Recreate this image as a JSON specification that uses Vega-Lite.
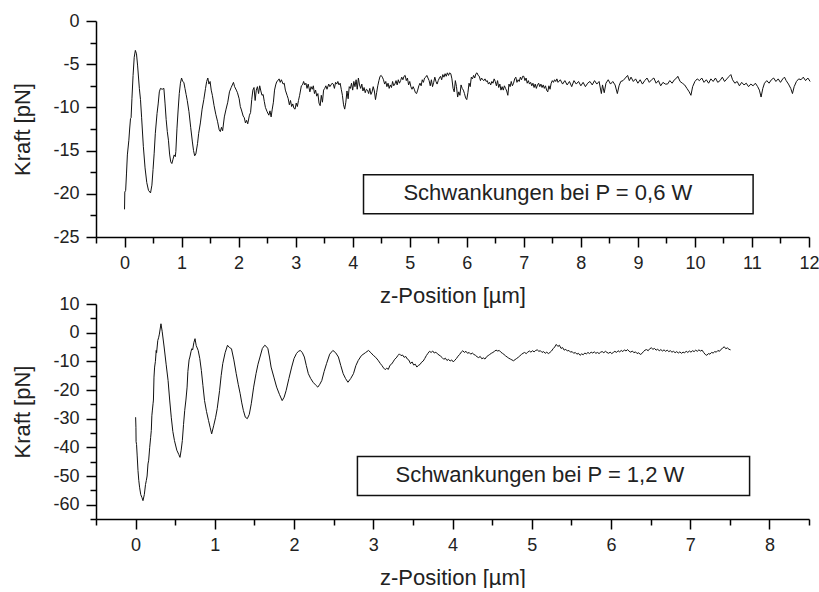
{
"$schema": "https://vega.github.io/schema/vega-lite/v6.json",
"padding": {"left": 11, "top": 12, "right": 0, "bottom": 0},
"bounds": "flush",
"spacing": 67,
"config": {
 "view": {"stroke": null},
 "font": "Liberation Sans",
 "axis": {"grid": false, "domainColor": "#000", "domainWidth": 1.5, "tickColor": "#000", "tickWidth": 1.5, "tickSize": 10, "labelColor": "#222", "titleColor": "#222", "labelFont": "Liberation Sans", "titleFont": "Liberation Sans", "labelFontSize": 18, "titleFontSize": 22, "titleFontWeight": "normal", "labelFlush": false, "labelOverlap": false, "labelPadding": 7, "titlePadding": 13}
},
"datasets": {
 "top": [
{"z":0.000,"f":-21.8},{"z":0.005,"f":-19.8},{"z":0.02,"f":-19.6},{"z":0.035,"f":-17.6},{"z":0.05,"f":-15.5},{"z":0.076,"f":-13.8},{"z":0.09,"f":-12.5},{"z":0.105,"f":-11.3},{"z":0.115,"f":-11.2},{"z":0.13,"f":-9.0},{"z":0.15,"f":-6.3},{"z":0.17,"f":-4.2},{"z":0.19,"f":-3.4},{"z":0.21,"f":-3.8},{"z":0.23,"f":-5.2},{"z":0.26,"f":-7.8},{"z":0.28,"f":-9.1},{"z":0.30,"f":-11.2},{"z":0.33,"f":-14.5},{"z":0.36,"f":-17.0},{"z":0.39,"f":-18.7},{"z":0.42,"f":-19.6},{"z":0.456,"f":-19.9},{"z":0.48,"f":-19.0},{"z":0.50,"f":-17.2},{"z":0.52,"f":-15.3},{"z":0.54,"f":-13.0},{"z":0.57,"f":-10.7},{"z":0.59,"f":-9.6},{"z":0.61,"f":-8.2},{"z":0.63,"f":-7.8},{"z":0.66,"f":-7.9},{"z":0.69,"f":-7.8},{"z":0.71,"f":-9.5},{"z":0.73,"f":-11.4},{"z":0.75,"f":-12.8},{"z":0.77,"f":-13.8},{"z":0.79,"f":-15.4},{"z":0.81,"f":-16.3},{"z":0.83,"f":-16.5},{"z":0.85,"f":-16.0},{"z":0.87,"f":-15.5},{"z":0.89,"f":-15.7},{"z":0.90,"f":-15.1},{"z":0.92,"f":-12.4},{"z":0.94,"f":-10.3},{"z":0.96,"f":-8.4},{"z":0.98,"f":-7.2},{"z":1.00,"f":-6.6},{"z":1.02,"f":-7.0},{"z":1.04,"f":-7.1},{"z":1.06,"f":-7.8},{"z":1.08,"f":-8.5},{"z":1.10,"f":-9.2},{"z":1.13,"f":-10.5},{"z":1.16,"f":-12.3},{"z":1.19,"f":-14.0},{"z":1.21,"f":-15.0},{"z":1.23,"f":-15.6},{"z":1.25,"f":-15.4},{"z":1.28,"f":-14.2},{"z":1.30,"f":-13.0},{"z":1.33,"f":-11.8},{"z":1.36,"f":-10.2},{"z":1.39,"f":-9.1},{"z":1.42,"f":-7.8},{"z":1.44,"f":-7.0},{"z":1.46,"f":-6.6},{"z":1.48,"f":-7.3},{"z":1.50,"f":-7.0},{"z":1.52,"f":-8.0},{"z":1.54,"f":-8.6},{"z":1.57,"f":-9.8},{"z":1.60,"f":-10.8},{"z":1.63,"f":-11.6},{"z":1.66,"f":-12.6},{"z":1.68,"f":-12.8},{"z":1.70,"f":-12.3},{"z":1.72,"f":-12.7},{"z":1.75,"f":-11.1},{"z":1.78,"f":-10.2},{"z":1.81,"f":-9.4},{"z":1.84,"f":-8.2},{"z":1.87,"f":-7.7},{"z":1.89,"f":-7.4},{"z":1.91,"f":-7.1},{"z":1.93,"f":-7.6},{"z":1.96,"f":-8.0},{"z":1.98,"f":-8.3},{"z":2.01,"f":-9.0},{"z":2.03,"f":-9.9},{"z":2.05,"f":-10.3},{"z":2.08,"f":-11.0},{"z":2.10,"f":-11.2},{"z":2.12,"f":-11.8},{"z":2.14,"f":-11.5},{"z":2.16,"f":-11.9},{"z":2.19,"f":-10.9},{"z":2.21,"f":-10.6},{"z":2.23,"f":-9.1},{"z":2.25,"f":-8.0},{"z":2.27,"f":-7.7},{"z":2.29,"f":-9.2},{"z":2.31,"f":-8.0},{"z":2.33,"f":-7.6},{"z":2.35,"f":-8.4},{"z":2.37,"f":-7.5},{"z":2.39,"f":-8.1},{"z":2.41,"f":-8.6},{"z":2.43,"f":-8.5},{"z":2.45,"f":-9.3},{"z":2.47,"f":-10.0},{"z":2.50,"f":-10.5},{"z":2.53,"f":-10.9},{"z":2.55,"f":-10.4},{"z":2.57,"f":-11.1},{"z":2.59,"f":-10.2},{"z":2.61,"f":-9.4},{"z":2.63,"f":-8.0},{"z":2.65,"f":-7.4},{"z":2.67,"f":-7.0},{"z":2.69,"f":-6.9},{"z":2.71,"f":-6.7},{"z":2.73,"f":-7.1},{"z":2.75,"f":-6.8},{"z":2.78,"f":-7.3},{"z":2.80,"f":-7.2},{"z":2.82,"f":-8.0},{"z":2.85,"f":-8.6},{"z":2.87,"f":-9.0},{"z":2.89,"f":-9.7},{"z":2.91,"f":-9.2},{"z":2.93,"f":-9.9},{"z":2.95,"f":-9.6},{"z":2.97,"f":-10.1},{"z":2.99,"f":-10.2},{"z":3.01,"f":-9.5},{"z":3.03,"f":-9.9},{"z":3.05,"f":-9.2},{"z":3.07,"f":-8.6},{"z":3.10,"f":-7.5},{"z":3.12,"f":-7.4},{"z":3.14,"f":-7.0},{"z":3.16,"f":-7.4},{"z":3.18,"f":-7.2},{"z":3.20,"f":-7.8},{"z":3.22,"f":-7.3},{"z":3.25,"f":-8.2},{"z":3.27,"f":-7.6},{"z":3.29,"f":-7.9},{"z":3.31,"f":-7.5},{"z":3.33,"f":-8.4},{"z":3.35,"f":-8.0},{"z":3.37,"f":-8.7},{"z":3.39,"f":-8.4},{"z":3.41,"f":-9.5},{"z":3.43,"f":-9.8},{"z":3.45,"f":-8.6},{"z":3.47,"f":-9.4},{"z":3.49,"f":-8.0},{"z":3.51,"f":-7.8},{"z":3.53,"f":-7.5},{"z":3.55,"f":-7.9},{"z":3.58,"f":-7.3},{"z":3.60,"f":-7.6},{"z":3.62,"f":-7.4},{"z":3.64,"f":-7.2},{"z":3.66,"f":-7.3},{"z":3.68,"f":-7.8},{"z":3.70,"f":-7.1},{"z":3.72,"f":-7.3},{"z":3.74,"f":-7.0},{"z":3.76,"f":-7.4},{"z":3.78,"f":-7.2},{"z":3.80,"f":-7.9},{"z":3.82,"f":-8.6},{"z":3.84,"f":-9.7},{"z":3.86,"f":-10.2},{"z":3.88,"f":-9.4},{"z":3.90,"f":-8.1},{"z":3.92,"f":-9.0},{"z":3.94,"f":-7.6},{"z":3.96,"f":-7.8},{"z":3.98,"f":-7.2},{"z":4.00,"f":-8.0},{"z":4.02,"f":-7.0},{"z":4.04,"f":-7.6},{"z":4.06,"f":-6.8},{"z":4.08,"f":-7.9},{"z":4.10,"f":-6.6},{"z":4.12,"f":-7.4},{"z":4.14,"f":-7.8},{"z":4.16,"f":-7.3},{"z":4.18,"f":-8.1},{"z":4.20,"f":-7.7},{"z":4.22,"f":-8.3},{"z":4.24,"f":-7.9},{"z":4.26,"f":-8.0},{"z":4.28,"f":-8.4},{"z":4.30,"f":-7.8},{"z":4.32,"f":-8.5},{"z":4.34,"f":-8.2},{"z":4.36,"f":-7.6},{"z":4.38,"f":-8.1},{"z":4.40,"f":-9.1},{"z":4.42,"f":-8.3},{"z":4.44,"f":-7.5},{"z":4.46,"f":-6.9},{"z":4.48,"f":-6.4},{"z":4.50,"f":-6.3},{"z":4.52,"f":-6.5},{"z":4.54,"f":-6.8},{"z":4.56,"f":-7.3},{"z":4.58,"f":-7.0},{"z":4.60,"f":-7.6},{"z":4.62,"f":-7.2},{"z":4.64,"f":-7.8},{"z":4.66,"f":-7.4},{"z":4.68,"f":-7.7},{"z":4.70,"f":-7.0},{"z":4.72,"f":-7.5},{"z":4.74,"f":-7.3},{"z":4.76,"f":-6.9},{"z":4.78,"f":-7.4},{"z":4.80,"f":-6.8},{"z":4.82,"f":-7.2},{"z":4.84,"f":-6.9},{"z":4.86,"f":-6.5},{"z":4.88,"f":-6.8},{"z":4.90,"f":-6.4},{"z":4.92,"f":-6.3},{"z":4.94,"f":-6.9},{"z":4.96,"f":-6.6},{"z":4.98,"f":-7.4},{"z":5.00,"f":-7.0},{"z":5.02,"f":-7.6},{"z":5.04,"f":-7.9},{"z":5.06,"f":-7.6},{"z":5.08,"f":-7.9},{"z":5.10,"f":-8.3},{"z":5.12,"f":-8.4},{"z":5.14,"f":-8.0},{"z":5.16,"f":-7.5},{"z":5.18,"f":-7.2},{"z":5.20,"f":-7.5},{"z":5.22,"f":-6.8},{"z":5.24,"f":-7.1},{"z":5.26,"f":-6.6},{"z":5.28,"f":-6.5},{"z":5.30,"f":-6.3},{"z":5.32,"f":-6.6},{"z":5.34,"f":-6.9},{"z":5.36,"f":-7.5},{"z":5.38,"f":-6.8},{"z":5.40,"f":-7.6},{"z":5.42,"f":-7.1},{"z":5.44,"f":-6.5},{"z":5.46,"f":-7.0},{"z":5.48,"f":-7.3},{"z":5.50,"f":-6.9},{"z":5.52,"f":-6.6},{"z":5.54,"f":-6.4},{"z":5.56,"f":-6.8},{"z":5.58,"f":-6.2},{"z":5.60,"f":-6.5},{"z":5.62,"f":-6.1},{"z":5.64,"f":-6.4},{"z":5.66,"f":-6.0},{"z":5.68,"f":-6.3},{"z":5.70,"f":-6.0},{"z":5.72,"f":-6.1},{"z":5.74,"f":-6.7},{"z":5.76,"f":-7.8},{"z":5.78,"f":-8.2},{"z":5.80,"f":-6.9},{"z":5.82,"f":-7.6},{"z":5.84,"f":-8.8},{"z":5.86,"f":-8.2},{"z":5.88,"f":-8.6},{"z":5.90,"f":-7.4},{"z":5.92,"f":-7.8},{"z":5.94,"f":-8.0},{"z":5.96,"f":-8.4},{"z":5.98,"f":-8.9},{"z":6.00,"f":-9.1},{"z":6.02,"f":-8.3},{"z":6.04,"f":-7.2},{"z":6.06,"f":-7.6},{"z":6.08,"f":-6.5},{"z":6.10,"f":-6.7},{"z":6.12,"f":-6.3},{"z":6.14,"f":-6.6},{"z":6.16,"f":-6.1},{"z":6.18,"f":-6.0},{"z":6.20,"f":-6.3},{"z":6.22,"f":-6.4},{"z":6.24,"f":-6.9},{"z":6.26,"f":-6.6},{"z":6.28,"f":-6.8},{"z":6.30,"f":-6.9},{"z":6.32,"f":-6.7},{"z":6.34,"f":-7.0},{"z":6.36,"f":-6.9},{"z":6.38,"f":-7.3},{"z":6.40,"f":-7.1},{"z":6.42,"f":-7.4},{"z":6.44,"f":-7.0},{"z":6.46,"f":-7.2},{"z":6.48,"f":-6.7},{"z":6.50,"f":-7.0},{"z":6.52,"f":-7.5},{"z":6.54,"f":-6.9},{"z":6.56,"f":-7.7},{"z":6.58,"f":-7.3},{"z":6.60,"f":-8.0},{"z":6.62,"f":-7.6},{"z":6.64,"f":-8.0},{"z":6.66,"f":-7.5},{"z":6.68,"f":-7.8},{"z":6.70,"f":-8.1},{"z":6.72,"f":-8.6},{"z":6.74,"f":-7.3},{"z":6.76,"f":-7.6},{"z":6.78,"f":-7.0},{"z":6.80,"f":-7.5},{"z":6.82,"f":-7.2},{"z":6.84,"f":-6.7},{"z":6.86,"f":-6.5},{"z":6.88,"f":-7.1},{"z":6.90,"f":-6.8},{"z":6.92,"f":-7.0},{"z":6.94,"f":-6.5},{"z":6.96,"f":-6.8},{"z":6.98,"f":-6.4},{"z":7.00,"f":-6.4},{"z":7.02,"f":-6.9},{"z":7.04,"f":-6.6},{"z":7.06,"f":-7.2},{"z":7.08,"f":-6.9},{"z":7.10,"f":-7.3},{"z":7.12,"f":-7.1},{"z":7.14,"f":-7.5},{"z":7.16,"f":-7.2},{"z":7.18,"f":-7.7},{"z":7.20,"f":-7.3},{"z":7.22,"f":-7.8},{"z":7.24,"f":-7.4},{"z":7.26,"f":-7.2},{"z":7.28,"f":-7.6},{"z":7.30,"f":-7.3},{"z":7.32,"f":-7.7},{"z":7.34,"f":-7.4},{"z":7.36,"f":-7.8},{"z":7.38,"f":-7.5},{"z":7.40,"f":-8.0},{"z":7.42,"f":-8.2},{"z":7.44,"f":-7.5},{"z":7.46,"f":-7.9},{"z":7.48,"f":-7.2},{"z":7.50,"f":-6.9},{"z":7.52,"f":-7.1},{"z":7.54,"f":-6.8},{"z":7.56,"f":-7.0},{"z":7.58,"f":-6.7},{"z":7.60,"f":-7.1},{"z":7.64,"f":-6.8},{"z":7.68,"f":-7.3},{"z":7.72,"f":-6.9},{"z":7.76,"f":-7.4},{"z":7.80,"f":-7.0},{"z":7.84,"f":-7.6},{"z":7.88,"f":-6.9},{"z":7.92,"f":-7.3},{"z":7.96,"f":-7.0},{"z":8.00,"f":-7.5},{"z":8.04,"f":-7.1},{"z":8.08,"f":-7.6},{"z":8.12,"f":-7.2},{"z":8.16,"f":-7.0},{"z":8.20,"f":-7.4},{"z":8.24,"f":-6.9},{"z":8.28,"f":-7.3},{"z":8.32,"f":-7.0},{"z":8.36,"f":-8.4},{"z":8.38,"f":-7.4},{"z":8.41,"f":-8.3},{"z":8.44,"f":-7.2},{"z":8.48,"f":-6.8},{"z":8.52,"f":-7.3},{"z":8.56,"f":-7.0},{"z":8.60,"f":-7.4},{"z":8.64,"f":-8.4},{"z":8.67,"f":-7.5},{"z":8.70,"f":-7.0},{"z":8.74,"f":-6.9},{"z":8.78,"f":-6.6},{"z":8.82,"f":-6.3},{"z":8.85,"f":-6.9},{"z":8.88,"f":-6.5},{"z":8.92,"f":-7.0},{"z":8.96,"f":-6.7},{"z":9.00,"f":-7.2},{"z":9.04,"f":-6.8},{"z":9.08,"f":-7.3},{"z":9.12,"f":-6.9},{"z":9.16,"f":-6.6},{"z":9.20,"f":-7.1},{"z":9.24,"f":-6.8},{"z":9.28,"f":-6.6},{"z":9.32,"f":-7.2},{"z":9.36,"f":-6.9},{"z":9.40,"f":-7.5},{"z":9.44,"f":-7.1},{"z":9.48,"f":-7.3},{"z":9.52,"f":-7.3},{"z":9.56,"f":-6.9},{"z":9.60,"f":-7.2},{"z":9.64,"f":-6.8},{"z":9.68,"f":-6.6},{"z":9.70,"f":-6.4},{"z":9.74,"f":-7.0},{"z":9.78,"f":-7.2},{"z":9.82,"f":-7.4},{"z":9.86,"f":-7.8},{"z":9.90,"f":-8.2},{"z":9.93,"f":-8.6},{"z":9.96,"f":-7.6},{"z":10.00,"f":-7.0},{"z":10.04,"f":-6.7},{"z":10.08,"f":-6.9},{"z":10.12,"f":-6.6},{"z":10.16,"f":-7.1},{"z":10.20,"f":-6.8},{"z":10.24,"f":-7.2},{"z":10.28,"f":-6.7},{"z":10.32,"f":-7.0},{"z":10.36,"f":-6.6},{"z":10.40,"f":-7.1},{"z":10.44,"f":-6.9},{"z":10.48,"f":-6.5},{"z":10.52,"f":-7.0},{"z":10.56,"f":-6.7},{"z":10.60,"f":-6.4},{"z":10.63,"f":-6.2},{"z":10.66,"f":-6.8},{"z":10.70,"f":-7.2},{"z":10.74,"f":-7.0},{"z":10.78,"f":-7.5},{"z":10.82,"f":-7.1},{"z":10.86,"f":-7.4},{"z":10.90,"f":-7.2},{"z":10.94,"f":-7.6},{"z":10.98,"f":-7.3},{"z":11.02,"f":-7.5},{"z":11.06,"f":-7.2},{"z":11.10,"f":-7.6},{"z":11.13,"f":-8.0},{"z":11.16,"f":-8.8},{"z":11.19,"f":-7.8},{"z":11.22,"f":-7.2},{"z":11.26,"f":-6.9},{"z":11.30,"f":-7.2},{"z":11.34,"f":-6.8},{"z":11.38,"f":-6.6},{"z":11.42,"f":-7.0},{"z":11.46,"f":-6.7},{"z":11.50,"f":-7.1},{"z":11.54,"f":-6.7},{"z":11.57,"f":-6.5},{"z":11.60,"f":-6.9},{"z":11.64,"f":-7.3},{"z":11.68,"f":-7.8},{"z":11.71,"f":-8.4},{"z":11.74,"f":-7.6},{"z":11.78,"f":-7.0},{"z":11.82,"f":-6.7},{"z":11.86,"f":-6.8},{"z":11.90,"f":-6.5},{"z":11.94,"f":-6.9},{"z":11.98,"f":-6.6},{"z":12.02,"f":-7.0}
 ],
 "bot": [
{"z":0.000,"f":-29.5},{"z":0.004,"f":-33.0},{"z":0.006,"f":-38.0},{"z":0.012,"f":-39.0},{"z":0.02,"f":-43.0},{"z":0.03,"f":-48.1},{"z":0.04,"f":-51.5},{"z":0.05,"f":-53.9},{"z":0.065,"f":-56.5},{"z":0.08,"f":-57.5},{"z":0.093,"f":-58.6},{"z":0.11,"f":-56.5},{"z":0.125,"f":-53.0},{"z":0.135,"f":-51.6},{"z":0.145,"f":-50.0},{"z":0.156,"f":-45.8},{"z":0.165,"f":-44.5},{"z":0.178,"f":-40.0},{"z":0.19,"f":-36.5},{"z":0.198,"f":-34.1},{"z":0.205,"f":-29.0},{"z":0.212,"f":-27.0},{"z":0.22,"f":-24.8},{"z":0.225,"f":-23.5},{"z":0.232,"f":-15.5},{"z":0.24,"f":-12.0},{"z":0.25,"f":-10.0},{"z":0.26,"f":-6.2},{"z":0.265,"f":-7.0},{"z":0.28,"f":-2.7},{"z":0.29,"f":-1.8},{"z":0.30,"f":-0.5},{"z":0.32,"f":3.1},{"z":0.335,"f":0.5},{"z":0.36,"f":-5.0},{"z":0.385,"f":-11.0},{"z":0.41,"f":-16.7},{"z":0.43,"f":-23.5},{"z":0.45,"f":-29.5},{"z":0.47,"f":-34.5},{"z":0.49,"f":-37.6},{"z":0.52,"f":-41.0},{"z":0.545,"f":-42.5},{"z":0.56,"f":-43.5},{"z":0.575,"f":-41.0},{"z":0.59,"f":-37.6},{"z":0.605,"f":-32.0},{"z":0.62,"f":-27.1},{"z":0.635,"f":-23.5},{"z":0.65,"f":-19.0},{"z":0.66,"f":-13.5},{"z":0.675,"f":-9.5},{"z":0.685,"f":-8.5},{"z":0.70,"f":-6.5},{"z":0.71,"f":-5.6},{"z":0.72,"f":-6.0},{"z":0.735,"f":-3.5},{"z":0.75,"f":-2.1},{"z":0.765,"f":-4.5},{"z":0.79,"f":-6.2},{"z":0.81,"f":-9.0},{"z":0.83,"f":-13.2},{"z":0.85,"f":-18.5},{"z":0.87,"f":-23.7},{"z":0.895,"f":-27.5},{"z":0.92,"f":-30.6},{"z":0.94,"f":-33.0},{"z":0.96,"f":-35.3},{"z":0.985,"f":-32.5},{"z":1.01,"f":-29.5},{"z":1.03,"f":-26.5},{"z":1.06,"f":-20.2},{"z":1.08,"f":-15.0},{"z":1.10,"f":-10.8},{"z":1.13,"f":-7.0},{"z":1.16,"f":-4.4},{"z":1.185,"f":-5.2},{"z":1.21,"f":-5.6},{"z":1.24,"f":-9.5},{"z":1.27,"f":-14.3},{"z":1.295,"f":-18.0},{"z":1.32,"f":-21.3},{"z":1.34,"f":-24.5},{"z":1.36,"f":-27.1},{"z":1.385,"f":-29.5},{"z":1.41,"f":-30.0},{"z":1.435,"f":-28.5},{"z":1.46,"f":-24.8},{"z":1.49,"f":-19.0},{"z":1.52,"f":-14.3},{"z":1.545,"f":-11.0},{"z":1.57,"f":-8.5},{"z":1.60,"f":-5.5},{"z":1.63,"f":-4.4},{"z":1.65,"f":-4.8},{"z":1.67,"f":-5.6},{"z":1.69,"f":-8.5},{"z":1.71,"f":-12.0},{"z":1.745,"f":-15.5},{"z":1.78,"f":-19.0},{"z":1.815,"f":-21.5},{"z":1.85,"f":-23.7},{"z":1.875,"f":-22.5},{"z":1.90,"f":-20.2},{"z":1.935,"f":-16.0},{"z":1.97,"f":-12.0},{"z":2.00,"f":-9.0},{"z":2.03,"f":-7.3},{"z":2.055,"f":-6.5},{"z":2.08,"f":-6.2},{"z":2.105,"f":-7.0},{"z":2.13,"f":-8.5},{"z":2.155,"f":-11.5},{"z":2.18,"f":-14.3},{"z":2.21,"f":-16.0},{"z":2.24,"f":-17.3},{"z":2.27,"f":-18.2},{"z":2.30,"f":-19.0},{"z":2.325,"f":-18.0},{"z":2.35,"f":-16.7},{"z":2.38,"f":-13.5},{"z":2.41,"f":-10.8},{"z":2.45,"f":-7.5},{"z":2.49,"f":-6.2},{"z":2.525,"f":-7.0},{"z":2.56,"f":-8.5},{"z":2.59,"f":-11.5},{"z":2.62,"f":-14.3},{"z":2.65,"f":-16.0},{"z":2.68,"f":-17.3},{"z":2.715,"f":-16.0},{"z":2.75,"f":-14.3},{"z":2.78,"f":-11.5},{"z":2.81,"f":-9.7},{"z":2.85,"f":-8.0},{"z":2.90,"f":-7.0},{"z":2.94,"f":-6.2},{"z":2.97,"f":-7.0},
{"z":3.00,"f":-7.9},{"z":3.03,"f":-8.6},{"z":3.06,"f":-9.6},{"z":3.09,"f":-10.8},{"z":3.11,"f":-11.5},{"z":3.13,"f":-12.3},{"z":3.15,"f":-12.9},{"z":3.17,"f":-12.4},{"z":3.19,"f":-12.8},{"z":3.21,"f":-11.4},{"z":3.23,"f":-11.0},{"z":3.25,"f":-10.2},{"z":3.27,"f":-9.3},{"z":3.29,"f":-8.8},{"z":3.31,"f":-8.0},{"z":3.33,"f":-7.4},{"z":3.35,"f":-8.0},{"z":3.37,"f":-7.8},{"z":3.39,"f":-8.6},{"z":3.41,"f":-8.3},{"z":3.43,"f":-9.2},{"z":3.45,"f":-9.6},{"z":3.47,"f":-10.8},{"z":3.49,"f":-10.2},{"z":3.51,"f":-11.3},{"z":3.53,"f":-11.0},{"z":3.55,"f":-12.0},{"z":3.57,"f":-11.4},{"z":3.59,"f":-11.1},{"z":3.61,"f":-10.3},{"z":3.63,"f":-9.9},{"z":3.65,"f":-9.0},{"z":3.67,"f":-8.0},{"z":3.69,"f":-7.2},{"z":3.71,"f":-6.5},{"z":3.73,"f":-6.9},{"z":3.75,"f":-6.4},{"z":3.77,"f":-7.1},{"z":3.79,"f":-6.8},{"z":3.81,"f":-7.4},{"z":3.83,"f":-7.8},{"z":3.85,"f":-8.2},{"z":3.87,"f":-8.7},{"z":3.89,"f":-9.3},{"z":3.91,"f":-8.9},{"z":3.93,"f":-9.7},{"z":3.95,"f":-9.3},{"z":3.97,"f":-9.9},{"z":3.99,"f":-9.5},{"z":4.01,"f":-10.2},{"z":4.03,"f":-9.6},{"z":4.05,"f":-9.0},{"z":4.07,"f":-8.2},{"z":4.09,"f":-7.6},{"z":4.11,"f":-6.8},{"z":4.13,"f":-6.3},{"z":4.15,"f":-6.9},{"z":4.17,"f":-6.5},{"z":4.19,"f":-7.2},{"z":4.21,"f":-6.9},{"z":4.23,"f":-7.5},{"z":4.25,"f":-7.1},{"z":4.27,"f":-7.6},{"z":4.29,"f":-7.9},{"z":4.31,"f":-8.4},{"z":4.33,"f":-8.7},{"z":4.35,"f":-8.3},{"z":4.37,"f":-9.1},{"z":4.39,"f":-8.8},{"z":4.41,"f":-9.2},{"z":4.43,"f":-8.4},{"z":4.45,"f":-8.0},{"z":4.47,"f":-7.6},{"z":4.49,"f":-7.2},{"z":4.51,"f":-6.9},{"z":4.53,"f":-6.5},{"z":4.55,"f":-6.1},{"z":4.57,"f":-6.4},{"z":4.59,"f":-6.2},{"z":4.61,"f":-6.8},{"z":4.63,"f":-7.2},{"z":4.65,"f":-7.6},{"z":4.67,"f":-8.1},{"z":4.69,"f":-8.5},{"z":4.71,"f":-8.9},{"z":4.73,"f":-9.2},{"z":4.75,"f":-9.5},{"z":4.77,"f":-9.8},{"z":4.79,"f":-9.4},{"z":4.81,"f":-9.0},{"z":4.83,"f":-8.6},{"z":4.85,"f":-8.1},{"z":4.87,"f":-7.6},{"z":4.89,"f":-7.2},{"z":4.91,"f":-6.9},{"z":4.93,"f":-7.3},{"z":4.95,"f":-6.8},{"z":4.97,"f":-6.4},{"z":4.99,"f":-6.8},{"z":5.01,"f":-6.3},{"z":5.03,"f":-6.7},{"z":5.05,"f":-6.2},{"z":5.07,"f":-6.0},{"z":5.09,"f":-6.5},{"z":5.11,"f":-6.3},{"z":5.13,"f":-6.9},{"z":5.15,"f":-6.6},{"z":5.17,"f":-7.2},{"z":5.19,"f":-6.8},{"z":5.21,"f":-7.3},{"z":5.23,"f":-6.9},{"z":5.25,"f":-6.4},{"z":5.27,"f":-5.6},{"z":5.29,"f":-5.0},{"z":5.31,"f":-4.1},{"z":5.33,"f":-4.8},{"z":5.35,"f":-4.4},{"z":5.37,"f":-5.5},{"z":5.39,"f":-5.2},{"z":5.41,"f":-6.1},{"z":5.43,"f":-5.8},{"z":5.45,"f":-6.4},{"z":5.47,"f":-6.2},{"z":5.49,"f":-6.8},{"z":5.51,"f":-6.6},{"z":5.53,"f":-7.2},{"z":5.55,"f":-6.9},{"z":5.57,"f":-7.5},{"z":5.59,"f":-7.2},{"z":5.61,"f":-7.9},{"z":5.63,"f":-7.4},{"z":5.65,"f":-7.7},{"z":5.67,"f":-7.1},{"z":5.69,"f":-7.4},{"z":5.71,"f":-6.9},{"z":5.73,"f":-7.3},{"z":5.75,"f":-6.8},{"z":5.77,"f":-7.1},{"z":5.79,"f":-6.7},{"z":5.81,"f":-7.2},{"z":5.83,"f":-6.9},{"z":5.85,"f":-7.3},{"z":5.87,"f":-6.8},{"z":5.89,"f":-6.6},{"z":5.91,"f":-7.0},{"z":5.93,"f":-6.5},{"z":5.95,"f":-6.9},{"z":5.97,"f":-7.2},{"z":5.99,"f":-6.8},{"z":6.01,"f":-7.3},{"z":6.03,"f":-6.9},{"z":6.05,"f":-6.5},{"z":6.07,"f":-6.9},{"z":6.09,"f":-6.3},{"z":6.11,"f":-6.7},{"z":6.13,"f":-6.2},{"z":6.15,"f":-6.6},{"z":6.17,"f":-6.0},{"z":6.19,"f":-6.4},{"z":6.21,"f":-5.9},{"z":6.23,"f":-6.5},{"z":6.25,"f":-6.8},{"z":6.27,"f":-6.4},{"z":6.29,"f":-7.0},{"z":6.31,"f":-6.7},{"z":6.33,"f":-7.3},{"z":6.35,"f":-7.0},{"z":6.37,"f":-7.6},{"z":6.39,"f":-7.3},{"z":6.41,"f":-6.6},{"z":6.43,"f":-6.1},{"z":6.45,"f":-5.9},{"z":6.47,"f":-6.3},{"z":6.49,"f":-5.6},{"z":6.51,"f":-5.3},{"z":6.53,"f":-5.8},{"z":6.55,"f":-5.5},{"z":6.57,"f":-6.1},{"z":6.59,"f":-5.8},{"z":6.61,"f":-6.3},{"z":6.63,"f":-5.9},{"z":6.65,"f":-6.4},{"z":6.67,"f":-6.0},{"z":6.69,"f":-6.5},{"z":6.71,"f":-6.1},{"z":6.73,"f":-6.6},{"z":6.75,"f":-6.3},{"z":6.77,"f":-6.8},{"z":6.79,"f":-6.5},{"z":6.81,"f":-7.0},{"z":6.83,"f":-6.6},{"z":6.85,"f":-7.1},{"z":6.87,"f":-6.7},{"z":6.89,"f":-7.2},{"z":6.91,"f":-6.8},{"z":6.93,"f":-7.0},{"z":6.95,"f":-6.5},{"z":6.97,"f":-6.9},{"z":6.99,"f":-6.4},{"z":7.01,"f":-6.8},{"z":7.03,"f":-6.3},{"z":7.05,"f":-6.6},{"z":7.07,"f":-6.1},{"z":7.09,"f":-6.5},{"z":7.11,"f":-6.0},{"z":7.13,"f":-6.4},{"z":7.15,"f":-6.1},{"z":7.17,"f":-6.9},{"z":7.19,"f":-7.6},{"z":7.21,"f":-7.9},{"z":7.23,"f":-7.3},{"z":7.25,"f":-7.5},{"z":7.27,"f":-6.9},{"z":7.29,"f":-7.1},{"z":7.31,"f":-6.6},{"z":7.33,"f":-6.8},{"z":7.35,"f":-6.2},{"z":7.37,"f":-6.5},{"z":7.39,"f":-5.8},{"z":7.41,"f":-5.4},{"z":7.43,"f":-4.9},{"z":7.45,"f":-5.6},{"z":7.47,"f":-5.3},{"z":7.49,"f":-5.8},{"z":7.51,"f":-6.0}
 ],
 "boxTop": [{"x1": 4.19, "x2": 11.02, "y1": -17.8, "y2": -22.3, "tx": 4.89, "ty": -19.9, "label": "Schwankungen bei P = 0,6 W"}],
 "boxBot": [{"x1": 2.80, "x2": 7.75, "y1": -43.2, "y2": -56.8, "tx": 3.28, "ty": -49.6, "label": "Schwankungen bei P = 1,2 W"}]
},
"vconcat": [
 {
  "width": 713, "height": 216,
  "resolve": {"axis": {"x": "independent", "y": "independent"}},
  "layer": [
   {"data": {"name": "top"}, "mark": {"type": "line", "color": "#111", "strokeWidth": 1},
    "encoding": {
     "x": {"field": "z", "type": "quantitative", "scale": {"domain": [-0.5, 12], "nice": false, "zero": false},
       "axis": {"orient": "bottom", "title": "z-Position [µm]", "values": [0,1,2,3,4,5,6,7,8,9,10,11,12], "labelExpr": "'' + datum.value", "labelOverlap": false, "labelFlush": false}},
     "y": {"field": "f", "type": "quantitative", "scale": {"domain": [-25, 0], "nice": false, "zero": false},
       "axis": {"orient": "left", "title": "Kraft [pN]", "titlePadding": 18, "values": [-25,-20,-15,-10,-5,0], "labelExpr": "'' + datum.value", "labelOverlap": false}}
    }},
   {"data": {"name": "boxTop"}, "mark": {"type": "rect", "fill": "white", "stroke": "#111", "strokeWidth": 1.5},
    "encoding": {
     "x": {"field": "x1", "type": "quantitative", "scale": {"domain": [-0.5, 12], "nice": false, "zero": false},
       "axis": {"orient": "bottom", "title": null, "labels": false, "domain": false, "tickSize": 6, "values": [-0.5,0.5,1.5,2.5,3.5,4.5,5.5,6.5,7.5,8.5,9.5,10.5,11.5]}},
     "x2": {"field": "x2"},
     "y": {"field": "y1", "type": "quantitative", "scale": {"domain": [-25, 0], "nice": false, "zero": false},
       "axis": {"orient": "left", "title": null, "labels": false, "domain": false, "tickSize": 6, "values": [-22.5,-17.5,-12.5,-7.5,-2.5]}},
     "y2": {"field": "y2"}}},
   {"data": {"name": "boxTop"}, "mark": {"type": "text", "align": "left", "baseline": "middle", "fontSize": 22, "font": "Liberation Sans", "color": "#222"},
    "encoding": {"x": {"field": "tx", "type": "quantitative", "axis": null}, "y": {"field": "ty", "type": "quantitative", "axis": null}, "text": {"field": "label"}}}
  ]
 },
 {
  "width": 713, "height": 215,
  "resolve": {"axis": {"x": "independent", "y": "independent"}},
  "layer": [
   {"data": {"name": "bot"}, "mark": {"type": "line", "color": "#111", "strokeWidth": 1},
    "encoding": {
     "x": {"field": "z", "type": "quantitative", "scale": {"domain": [-0.5, 8.5], "nice": false, "zero": false},
       "axis": {"orient": "bottom", "title": "z-Position [µm]", "values": [0,1,2,3,4,5,6,7,8], "labelExpr": "'' + datum.value", "labelOverlap": false, "labelFlush": false}},
     "y": {"field": "f", "type": "quantitative", "scale": {"domain": [-65, 10], "nice": false, "zero": false},
       "axis": {"orient": "left", "title": "Kraft [pN]", "titlePadding": 18, "values": [-60,-50,-40,-30,-20,-10,0,10], "labelExpr": "'' + datum.value", "labelOverlap": false}}
    }},
   {"data": {"name": "boxBot"}, "mark": {"type": "rect", "fill": "white", "stroke": "#111", "strokeWidth": 1.5},
    "encoding": {
     "x": {"field": "x1", "type": "quantitative", "scale": {"domain": [-0.5, 8.5], "nice": false, "zero": false},
       "axis": {"orient": "bottom", "title": null, "labels": false, "domain": false, "tickSize": 6, "values": [-0.5,0.5,1.5,2.5,3.5,4.5,5.5,6.5,7.5,8.5]}},
     "x2": {"field": "x2"},
     "y": {"field": "y1", "type": "quantitative", "scale": {"domain": [-65, 10], "nice": false, "zero": false},
       "axis": {"orient": "left", "title": null, "labels": false, "domain": false, "tickSize": 6, "values": [-65,-55,-45,-35,-25,-15,-5,5]}},
     "y2": {"field": "y2"}}},
   {"data": {"name": "boxBot"}, "mark": {"type": "text", "align": "left", "baseline": "middle", "fontSize": 22, "font": "Liberation Sans", "color": "#222"},
    "encoding": {"x": {"field": "tx", "type": "quantitative", "axis": null}, "y": {"field": "ty", "type": "quantitative", "axis": null}, "text": {"field": "label"}}}
  ]
 }
]
}
